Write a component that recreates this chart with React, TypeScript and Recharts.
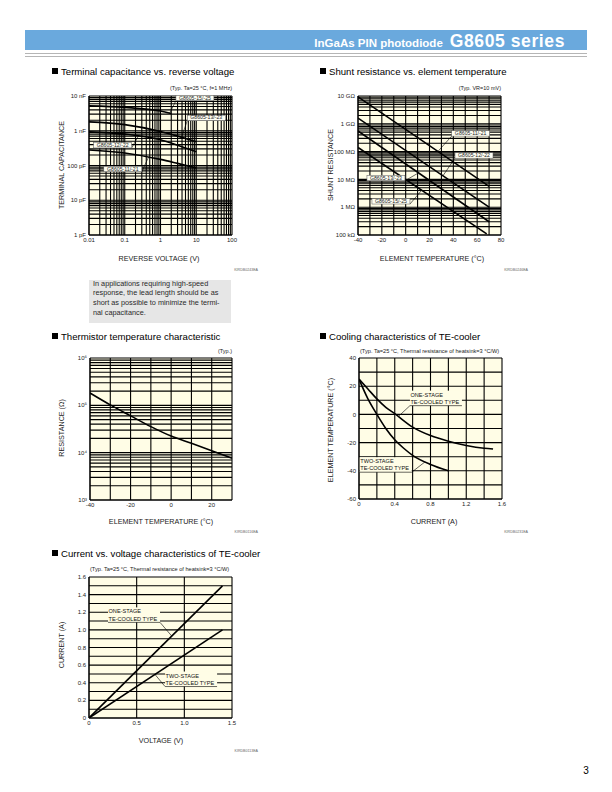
import React from 'react';
import { LineChart, Line, XAxis, YAxis, CartesianGrid, ReferenceLine, ReferenceDot } from 'recharts';

const FONT = '"Liberation Sans", Arial, Helvetica, sans-serif';
const PAPER = '#fffde6';

// Terminal capacitance (pF) vs reverse voltage (V)
const cap11 = [{ v: 0.01, c: 280 }, { v: 0.1, c: 230 }, { v: 1, c: 150 }, { v: 3, c: 115 }, { v: 10, c: 85 }];
const cap12 = [{ v: 0.01, c: 930 }, { v: 0.1, c: 800 }, { v: 1, c: 550 }, { v: 3, c: 380 }, { v: 10, c: 250 }];
const cap13 = [{ v: 0.01, c: 1800 }, { v: 0.1, c: 1500 }, { v: 1, c: 950 }, { v: 3, c: 700 }, { v: 10, c: 480 }];
const cap15 = [{ v: 0.01, c: 5200 }, { v: 0.1, c: 4700 }, { v: 1, c: 3700 }, { v: 2, c: 3150 }];
const capXLabels: Record<string, string> = { '0.01': '0.01', '0.1': '0.1', '1': '1', '10': '10', '100': '100' };
const capYLabels: Record<string, string> = { '1': '1 pF', '10': '10 pF', '100': '100 pF', '1000': '1 nF', '10000': '10 nF' };

// Shunt resistance (ohm) vs element temperature (C)
const shunt11 = [{ t: -40, r: 9.3e9 }, { t: 70, r: 5.6e6 }];
const shunt12 = [{ t: -40, r: 1.6e9 }, { t: 70, r: 1.0e6 }];
const shunt13 = [{ t: -40, r: 5.5e8 }, { t: 70, r: 3.0e5 }];
const shunt15 = [{ t: -40, r: 1.4e8 }, { t: 68, r: 1.1e5 }];
const shuntXTicks = [-40, -30, -20, -10, 0, 10, 20, 30, 40, 50, 60, 70, 80];
const shuntXLabels: Record<string, string> = { '-40': '-40', '-20': '-20', '0': '0', '20': '20', '40': '40', '60': '60', '80': '80' };
const shuntYLabels: Record<string, string> = {
  '100000': '100 k\u03a9', '1000000': '1 M\u03a9', '10000000': '10 M\u03a9',
  '100000000': '100 M\u03a9', '1000000000': '1 G\u03a9', '10000000000': '10 G\u03a9',
};

// Thermistor resistance (ohm) vs temperature (C)
const thermistor = [
  { t: -40, r: 182000 }, { t: -30, r: 102000 }, { t: -20, r: 60000 }, { t: -10, r: 35500 },
  { t: 0, r: 22400 }, { t: 10, r: 15800 }, { t: 20, r: 11000 }, { t: 30, r: 7600 },
];
const thermXTicks = [-40, -30, -20, -10, 0, 10, 20, 30];
const thermXLabels: Record<string, string> = { '-40': '-40', '-20': '-20', '0': '0', '20': '20' };
const thermYLabels: Record<string, string> = { '1000': '10\u00b3', '10000': '10\u2074', '100000': '10\u2075', '1000000': '10\u2076' };

// Cooling: element temperature (C) vs current (A)
const coolOne = [
  { a: 0, t: 25 }, { a: 0.1, t: 18 }, { a: 0.2, t: 11 }, { a: 0.3, t: 5 }, { a: 0.4, t: 0.5 },
  { a: 0.6, t: -9 }, { a: 0.8, t: -15 }, { a: 1.0, t: -19 }, { a: 1.2, t: -22 }, { a: 1.4, t: -24 }, { a: 1.5, t: -24.5 },
];
const coolTwo = [
  { a: 0, t: 25 }, { a: 0.1, t: 11 }, { a: 0.2, t: 0 }, { a: 0.3, t: -10 }, { a: 0.4, t: -18 },
  { a: 0.5, t: -24 }, { a: 0.6, t: -29 }, { a: 0.8, t: -35.5 }, { a: 1.0, t: -40 },
];
const coolXTicks = [0, 0.2, 0.4, 0.6, 0.8, 1, 1.2, 1.4, 1.6];
const coolXLabels: Record<string, string> = { '0': '0', '0.4': '0.4', '0.8': '0.8', '1.2': '1.2', '1.6': '1.6' };
const coolYTicks = [-60, -50, -40, -30, -20, -10, 0, 10, 20, 30, 40];
const coolYLabels: Record<string, string> = { '-60': '-60', '-40': '-40', '-20': '-20', '0': '0', '20': '20', '40': '40' };

// Current (A) vs voltage (V)
const ivOne = [{ u: 0, i: 0 }, { u: 1.4, i: 1.5 }];
const ivTwo = [{ u: 0, i: 0 }, { u: 1.4, i: 1.0 }];
const ivXTicks = [0, 0.5, 1, 1.5];
const ivXLabels: Record<string, string> = { '0': '0', '0.5': '0.5', '1': '1.0', '1.5': '1.5' };
const ivYTicks = [0, 0.1, 0.2, 0.3, 0.4, 0.5, 0.6, 0.7, 0.8, 0.9, 1, 1.1, 1.2, 1.3, 1.4, 1.5, 1.6];
const ivYLabels: Record<string, string> = {
  '0': '0', '0.2': '0.2', '0.4': '0.4', '0.6': '0.6', '0.8': '0.8', '1': '1.0', '1.2': '1.2', '1.4': '1.4', '1.6': '1.6',
};

const logTicks = (from: number, to: number) => {
  const out: number[] = [];
  for (let k = from; k < to; k++) for (let m = 1; m < 10; m++) out.push(Number(`${m}e${k}`));
  out.push(Number(`1e${to}`));
  return out;
};

// plain <text> ticks so the library doesn't wrap labels like "100 pF"
const xTick = (map: Record<string, string>) => (p: any) => {
  const s = map[String(p.payload.value)];
  if (!s) return <g />;
  return <text x={p.x} y={p.y} dy="0.71em" textAnchor="middle" fontSize={6} fill="#222" fontFamily={FONT}>{s}</text>;
};
const yTick = (map: Record<string, string>) => (p: any) => {
  const s = map[String(p.payload.value)];
  if (!s) return <g />;
  return <text x={p.x} y={p.y} dy="0.35em" textAnchor="end" fontSize={6} fill="#222" fontFamily={FONT}>{s}</text>;
};

const PL = 40, PT = 12, PR = 14, PB = 14;
const axisProps = { tickLine: false, tickSize: 2, tickMargin: 1, axisLine: { stroke: '#000' }, interval: 0 as const, allowDataOverflow: true };
const curve = { stroke: '#000', strokeWidth: 1.6, dot: false, isAnimationActive: false };
const leader = { stroke: '#000', strokeWidth: 0.6 };

function Frame({ x, y, w, h, children }: any) {
  return (
    <div style={{ position: 'absolute', left: x - PL, top: y - PT }}>
      <LineChart width={w + PL + PR} height={h + PT + PB} margin={{ top: PT, right: PR, bottom: 0, left: 0 }}>
        {children}
      </LineChart>
    </div>
  );
}

const BoxTag = ({ cx, cy, text, side }: any) => {
  const w = 38, h = 5.5;
  const x = side === 'right' ? cx : cx - w;
  return (
    <g>
      <rect x={x} y={cy - h} width={w} height={h} fill="#fdfdf3" stroke="#555" strokeWidth={0.5} />
      <text x={x + w / 2} y={cy - 1.2} textAnchor="middle" fontSize={5.2} fontFamily={FONT} fill="#222">{text}</text>
    </g>
  );
};

const UnderTag = ({ cx, cy, lines, side }: any) => {
  const w = 52;
  const x = side === 'right' ? cx : cx - w;
  return (
    <g fontFamily={FONT} fontSize={5.6} fill="#111">
      <rect x={x} y={cy - 15} width={w} height={15} fill={PAPER} />
      <text x={x + 0.5} y={cy - 9}>{lines[0]}</text>
      <text x={x + 0.5} y={cy - 1.8}>{lines[1]}</text>
      <line x1={x} x2={x + w} y1={cy} y2={cy} stroke="#000" strokeWidth={0.6} />
    </g>
  );
};

const Txt = ({ x, y, size = 7.2, anchor = 'start', rotate = false, color = '#222', weight, children }: any) => {
  const tx = anchor === 'middle' ? '-50%' : anchor === 'end' ? '-100%' : '0';
  return (
    <div style={{
      position: 'absolute', left: x, top: y, fontSize: size, lineHeight: 1, whiteSpace: 'nowrap', color, fontWeight: weight,
      transform: rotate ? 'translate(-50%, -50%) rotate(-90deg)' : `translate(${tx}, -50%)`,
    }}>
      {children}
    </div>
  );
};

const Title = ({ x, y, children }: any) => (
  <div style={{ position: 'absolute', left: x, top: y - 6, height: 12, display: 'flex', alignItems: 'center', fontSize: 9.6, whiteSpace: 'nowrap', color: '#000' }}>
    <span style={{ display: 'inline-block', width: 6, height: 6, background: '#000', marginRight: 3 }} />
    {children}
  </div>
);

export default function App() {
  return (
    <div style={{ position: 'absolute', left: 0, top: 0, width: 612, height: 792, background: '#fff', fontFamily: FONT, overflow: 'hidden' }}>
      {/* header */}
      <div style={{ position: 'absolute', left: 25, top: 30, width: 562, height: 20, background: '#6aa9dd' }} />
      <div style={{ position: 'absolute', right: 47, top: 30, height: 20, lineHeight: '22px', whiteSpace: 'nowrap', color: '#fff', fontWeight: 'bold' }}>
        <span style={{ fontSize: 11.5 }}>InGaAs PIN photodiode</span>
        <span style={{ fontSize: 17.5, marginLeft: 7, letterSpacing: 0.6 }}>G8605 series</span>
      </div>
      <div style={{ position: 'absolute', left: 25, top: 53, width: 562, height: 1, background: '#b5b5b5' }} />
      <div style={{ position: 'absolute', left: 25, top: 56, width: 562, height: 1, background: '#b5b5b5' }} />

      {/* Terminal capacitance */}
      <Title x={52} y={71}>Terminal capacitance vs. reverse voltage</Title>
      <Txt x={232} y={89} size={5.5} anchor="end">(Typ. Ta=25 °C, f=1 MHz)</Txt>
      <Frame x={89} y={96} w={143} h={139}>
        <CartesianGrid stroke="#000" strokeWidth={1.1} fill={PAPER} fillOpacity={1} />
        <XAxis type="number" dataKey="v" scale="log" domain={[0.01, 100]} ticks={logTicks(-2, 2)} tick={xTick(capXLabels)} height={PB} {...axisProps} />
        <YAxis type="number" scale="log" domain={[1, 10000]} ticks={logTicks(0, 4)} tick={yTick(capYLabels)} width={PL} {...axisProps} />
        <Line data={cap15} dataKey="c" type="monotone" {...curve} />
        <Line data={cap13} dataKey="c" type="monotone" {...curve} />
        <Line data={cap12} dataKey="c" type="monotone" {...curve} />
        <Line data={cap11} dataKey="c" type="monotone" {...curve} />
        <ReferenceLine segment={[{ x: 2.7, y: 7300 }, { x: 1.8, y: 3200 }]} {...leader} />
        <ReferenceLine segment={[{ x: 5.6, y: 1950 }, { x: 3.9, y: 650 }]} {...leader} />
        <ReferenceLine segment={[{ x: 0.156, y: 320 }, { x: 0.24, y: 700 }]} {...leader} />
        <ReferenceLine segment={[{ x: 0.3, y: 66 }, { x: 0.46, y: 172 }]} {...leader} />
        <ReferenceDot x={2.7} y={7300} r={0} shape={(p: any) => <BoxTag cx={p.cx} cy={p.cy} side="right" text="G8605-15/-25" />} />
        <ReferenceDot x={5.6} y={1950} r={0} shape={(p: any) => <BoxTag cx={p.cx} cy={p.cy} side="right" text="G8605-13/-23" />} />
        <ReferenceDot x={0.156} y={320} r={0} shape={(p: any) => <BoxTag cx={p.cx} cy={p.cy} side="left" text="G8605-12/-22" />} />
        <ReferenceDot x={0.3} y={66} r={0} shape={(p: any) => <BoxTag cx={p.cx} cy={p.cy} side="left" text="G8605-11/-21" />} />
      </Frame>
      <Txt x={62} y={165} rotate>TERMINAL CAPACITANCE</Txt>
      <Txt x={159} y={259} anchor="middle">REVERSE VOLTAGE (V)</Txt>
      <Txt x={258} y={271} size={3.6} anchor="end" color="#666">KIRDB0243EA</Txt>

      <div style={{ position: 'absolute', left: 89, top: 280, width: 142, height: 43, background: '#e6e6e6' }}>
        <div style={{ position: 'relative', top: -1.5, paddingLeft: 4, fontSize: 7.3, lineHeight: '9.9px', whiteSpace: 'nowrap', color: '#2a2a2a' }}>
          In applications requiring high-speed<br />
          response, the lead length should be as<br />
          short as possible to minimize the termi-<br />
          nal capacitance.
        </div>
      </div>

      {/* Shunt resistance */}
      <Title x={320} y={71}>Shunt resistance vs. element temperature</Title>
      <Txt x={501} y={89} size={5.5} anchor="end">(Typ. VR=10 mV)</Txt>
      <Frame x={358} y={96} w={143} h={139}>
        <CartesianGrid stroke="#000" strokeWidth={1.1} fill={PAPER} fillOpacity={1} />
        <XAxis type="number" dataKey="t" domain={[-40, 80]} ticks={shuntXTicks} tick={xTick(shuntXLabels)} height={PB} {...axisProps} />
        <YAxis type="number" scale="log" domain={[1e5, 1e10]} ticks={logTicks(5, 10)} tick={yTick(shuntYLabels)} width={PL} {...axisProps} />
        <Line data={shunt11} dataKey="r" type="linear" {...curve} />
        <Line data={shunt12} dataKey="r" type="linear" {...curve} />
        <Line data={shunt13} dataKey="r" type="linear" {...curve} />
        <Line data={shunt15} dataKey="r" type="linear" {...curve} />
        <ReferenceLine segment={[{ x: 38.6, y: 3.6e8 }, { x: 27.4, y: 1.05e8 }]} {...leader} />
        <ReferenceLine segment={[{ x: 41.4, y: 5.8e7 }, { x: 31.3, y: 1.35e7 }]} {...leader} />
        <ReferenceLine segment={[{ x: -0.6, y: 8.9e6 }, { x: 10.6, y: 1.7e7 }]} {...leader} />
        <ReferenceLine segment={[{ x: 3.6, y: 1.3e6 }, { x: 13.5, y: 4.1e6 }]} {...leader} />
        <ReferenceDot x={38.6} y={3.6e8} r={0} shape={(p: any) => <BoxTag cx={p.cx} cy={p.cy} side="right" text="G8605-11/-21" />} />
        <ReferenceDot x={41.4} y={5.8e7} r={0} shape={(p: any) => <BoxTag cx={p.cx} cy={p.cy} side="right" text="G8605-12/-22" />} />
        <ReferenceDot x={-0.6} y={8.9e6} r={0} shape={(p: any) => <BoxTag cx={p.cx} cy={p.cy} side="left" text="G8605-13/-23" />} />
        <ReferenceDot x={3.6} y={1.3e6} r={0} shape={(p: any) => <BoxTag cx={p.cx} cy={p.cy} side="left" text="G8605-15/-25" />} />
      </Frame>
      <Txt x={331} y={165} rotate>SHUNT RESISTANCE</Txt>
      <Txt x={432} y={259} anchor="middle">ELEMENT TEMPERATURE (°C)</Txt>
      <Txt x={528} y={271} size={3.6} anchor="end" color="#666">KIRDB0246EA</Txt>

      {/* Thermistor */}
      <Title x={52} y={336}>Thermistor temperature characteristic</Title>
      <Txt x={232} y={352} size={5.5} anchor="end">(Typ.)</Txt>
      <Frame x={90} y={358} w={142} h={142}>
        <CartesianGrid stroke="#000" strokeWidth={1.1} fill={PAPER} fillOpacity={1} />
        <XAxis type="number" dataKey="t" domain={[-40, 30]} ticks={thermXTicks} tick={xTick(thermXLabels)} height={PB} {...axisProps} />
        <YAxis type="number" scale="log" domain={[1e3, 1e6]} ticks={logTicks(3, 6)} tick={yTick(thermYLabels)} width={PL} {...axisProps} />
        <Line data={thermistor} dataKey="r" type="monotone" {...curve} />
      </Frame>
      <Txt x={62} y={428} rotate>RESISTANCE (Ω)</Txt>
      <Txt x={161} y={522} anchor="middle">ELEMENT TEMPERATURE (°C)</Txt>
      <Txt x={258} y={533} size={3.6} anchor="end" color="#666">KIRDB0116EA</Txt>

      {/* Cooling characteristics */}
      <Title x={320} y={336}>Cooling characteristics of TE-cooler</Title>
      <Txt x={360} y={352} size={5.6}>(Typ. Ta=25 °C, Thermal resistance of heatsink=3 °C/W)</Txt>
      <Frame x={359} y={358} w={143} h={141}>
        <CartesianGrid stroke="#000" strokeWidth={1.1} fill={PAPER} fillOpacity={1} />
        <XAxis type="number" dataKey="a" domain={[0, 1.6]} ticks={coolXTicks} tick={xTick(coolXLabels)} height={PB} {...axisProps} />
        <YAxis type="number" domain={[-60, 40]} ticks={coolYTicks} tick={yTick(coolYLabels)} width={PL} {...axisProps} />
        <Line data={coolOne} dataKey="t" type="monotone" {...curve} />
        <Line data={coolTwo} dataKey="t" type="monotone" {...curve} />
        <ReferenceLine segment={[{ x: 0.57, y: 6.2 }, { x: 0.44, y: -1.5 }]} {...leader} />
        <ReferenceLine segment={[{ x: 0.59, y: -41 }, { x: 0.74, y: -33.6 }]} {...leader} />
        <ReferenceDot x={0.57} y={6.2} r={0} shape={(p: any) => <UnderTag cx={p.cx} cy={p.cy} side="right" lines={['ONE-STAGE', 'TE-COOLED TYPE']} />} />
        <ReferenceDot x={0.59} y={-41} r={0} shape={(p: any) => <UnderTag cx={p.cx} cy={p.cy} side="left" lines={['TWO-STAGE', 'TE-COOLED TYPE']} />} />
      </Frame>
      <Txt x={331} y={430} rotate>ELEMENT TEMPERATURE (°C)</Txt>
      <Txt x={434} y={522} anchor="middle">CURRENT (A)</Txt>
      <Txt x={528} y={533} size={3.6} anchor="end" color="#666">KIRDB0231EA</Txt>

      {/* Current vs voltage */}
      <Title x={52} y={553}>Current vs. voltage characteristics of TE-cooler</Title>
      <Txt x={90} y={570} size={5.6}>(Typ. Ta=25 °C, Thermal resistance of heatsink=3 °C/W)</Txt>
      <Frame x={89} y={577} w={143} h={141}>
        <CartesianGrid stroke="#000" strokeWidth={1.1} fill={PAPER} fillOpacity={1} />
        <XAxis type="number" dataKey="u" domain={[0, 1.5]} ticks={ivXTicks} tick={xTick(ivXLabels)} height={PB} {...axisProps} />
        <YAxis type="number" domain={[0, 1.6]} ticks={ivYTicks} tick={yTick(ivYLabels)} width={PL} {...axisProps} />
        <Line data={ivOne} dataKey="i" type="linear" {...curve} />
        <Line data={ivTwo} dataKey="i" type="linear" {...curve} />
        <ReferenceLine segment={[{ x: 0.745, y: 1.085 }, { x: 0.868, y: 0.93 }]} {...leader} />
        <ReferenceLine segment={[{ x: 0.798, y: 0.357 }, { x: 0.692, y: 0.494 }]} {...leader} />
        <ReferenceDot x={0.745} y={1.085} r={0} shape={(p: any) => <UnderTag cx={p.cx} cy={p.cy} side="left" lines={['ONE-STAGE', 'TE-COOLED TYPE']} />} />
        <ReferenceDot x={0.798} y={0.357} r={0} shape={(p: any) => <UnderTag cx={p.cx} cy={p.cy} side="right" lines={['TWO-STAGE', 'TE-COOLED TYPE']} />} />
      </Frame>
      <Txt x={62} y={645} rotate>CURRENT (A)</Txt>
      <Txt x={161} y={741} anchor="middle">VOLTAGE (V)</Txt>
      <Txt x={258} y={752} size={3.6} anchor="end" color="#666">KIRDB0113EA</Txt>

      <Txt x={586} y={771} size={10} anchor="middle" color="#000">3</Txt>
    </div>
  );
}
